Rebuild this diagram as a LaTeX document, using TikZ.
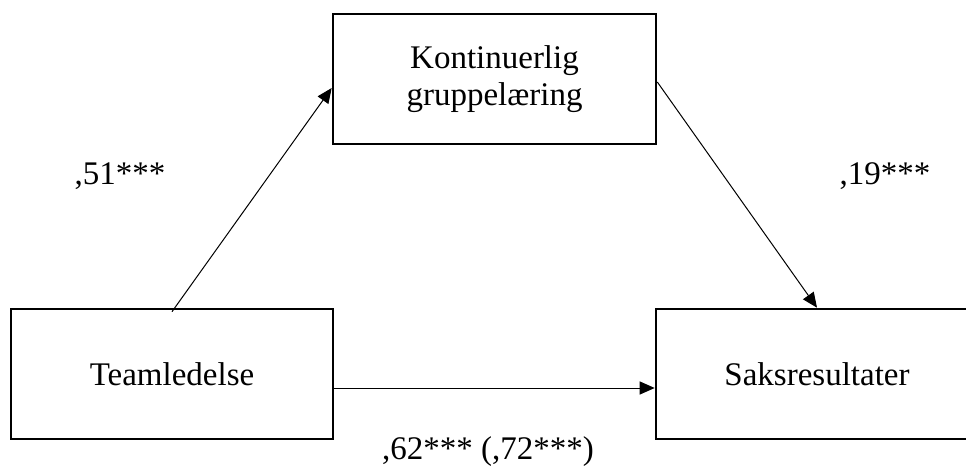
\documentclass[tikz,border=0pt]{standalone}
\usepackage{fontspec}
\setmainfont{Liberation Serif}
\usetikzlibrary{arrows.meta,positioning}

\begin{document}
\begin{tikzpicture}[
  x=1pt, y=-1pt,
  var/.style={draw, line width=2.6pt, inner sep=0pt, align=center,
              minimum height=130pt, font=\fontsize{33}{37}\selectfont},
  coef/.style={inner sep=0pt, font=\fontsize{33}{37}\selectfont},
  every edge/.style={draw, line width=1pt, -{Triangle[length=15pt, width=13pt]}}
]
\useasboundingbox (0,0) rectangle (966,473);
\node[var, minimum width=322pt] (team) at (172,374) {Teamledelse};
\node[var, minimum width=323pt] (learn) at (494.5,79) {Kontinuerlig\\gruppelæring};
\node[var, minimum width=322pt] (result) at (817,374) {Saksresultater};
\node[coef] (ab) at (120,176) {,51***};
\node[coef] (bc) at (885,176) {,19***};
\node[coef] (ac) at (488,452) {,62*** (,72***)};
\path ([yshift=-4pt]team.north) edge ([yshift=-9pt]learn.west)
      ([yshift=-3pt]learn.east) edge (result.north)
      ([yshift=-14pt]team.east) edge ([yshift=-14pt]result.west);
\end{tikzpicture}
\end{document}
